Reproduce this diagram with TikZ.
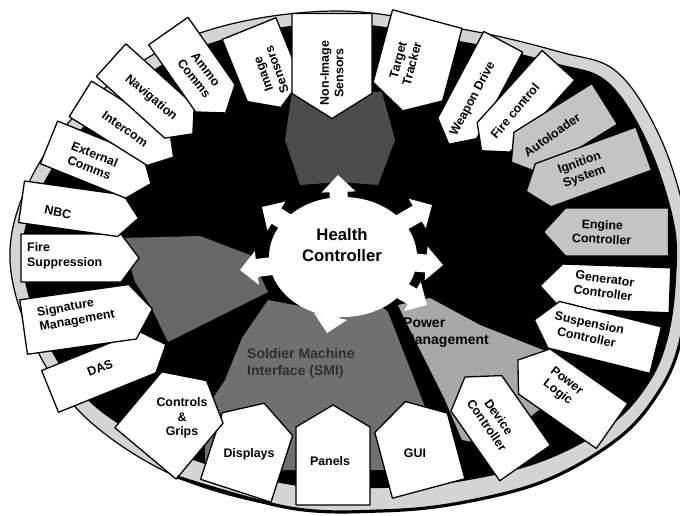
\documentclass[tikz,border=0pt]{standalone}
\usepackage{fontspec}
\setmainfont{Liberation Sans}
\definecolor{rimgray}{HTML}{D4D4D4}
\definecolor{boxgray}{HTML}{C4C4C4}
\definecolor{sensgray}{HTML}{4C4C4C}
\definecolor{leftgray}{HTML}{686868}
\definecolor{smigray}{HTML}{707070}
\definecolor{powgray}{HTML}{A8A8A8}
\newcommand\pbox[7]{%
  \begin{scope}[shift={(#1,#2)},rotate=#3]
    \filldraw[boxline,fill=#7] (-#4/2,-#5/2) -- (#4/2-#6,-#5/2) -- (#4/2,0) -- (#4/2-#6,#5/2) -- (-#4/2,#5/2) -- cycle;
  \end{scope}}
\newcommand\garrow[3]{%
  \fill[white,shift={(#1,#2)},rotate=#3] (0,0) -- (-17,17) -- (-17,9) -- (-50,9) -- (-50,-9) -- (-17,-9) -- (-17,-17) -- cycle;}
\begin{document}
\begin{tikzpicture}[x=1pt,y=-1pt,
  boxline/.style={draw=black,line width=1.3pt,line join=round},
  lbl/.style={font=\bfseries\fontsize{12.4}{14.5}\selectfont,align=center,inner sep=0pt},
  grplbl/.style={font=\bfseries\fontsize{14}{17}\selectfont,align=left,inner sep=0pt,anchor=west},
  gearlbl/.style={font=\bfseries\fontsize{16.7}{21}\selectfont,align=center,inner sep=0pt}]
\useasboundingbox (0,0) rectangle (680,516);
\fill[white] (0,0) rectangle (680,516);
\begin{scope}
\clip (0,0) rectangle (680,516);
% rim
\filldraw[fill=rimgray,draw=black,line width=1.2pt] plot[smooth cycle,tension=0.6] coordinates
 {(335,11) (467,30) (560,52) (617,72) (660,137) (686,220) (688,280) (680,343) (660,390) (620,437) (547,480) (460,503) (380,511) (290,508) (177,477) (83,415) (30,335) (10,250) (37,167) (100,92) (200,33)};
% inner dark region
\fill[black] plot[smooth cycle,tension=0.6] coordinates
 {(335,23) (465,42) (555,63) (608,82) (648,143) (674,222) (676,280) (668,338) (649,383) (611,425) (541,462) (457,482) (380,488) (292,485) (183,456) (93,405) (42,332) (22,250) (48,175) (109,102) (205,45)};
% group fields
\fill[sensgray] (292,92) -- (382,92) -- (395,140) -- (378,185) -- (340,182) -- (300,185) -- (285,140) -- cycle;
\fill[leftgray] (122,238) -- (200,236) -- (250,255) -- (268,292) -- (168,342) -- (150,305) -- (135,282) -- cycle;
\fill[smigray] (242,338) -- (268,300) -- (300,306) -- (375,300) -- (388,312) -- (432,425) -- (430,470) -- (205,470) -- (205,410) -- (225,380) -- cycle;
\fill[powgray] (398,305) -- (430,298) -- (480,325) -- (548,352) -- (545,405) -- (520,425) -- (490,445) -- (462,440) -- (445,400) -- (405,320) -- cycle;
\node[grplbl,text=black!82] (smi) at (247,363) {Soldier Machine\\Interface (SMI)};
\node[grplbl] (pm) at (403,333) {Power\\Management};
% boxes
\pbox{265}{68}{-68}{85}{58}{18}{white}
\pbox{332}{66}{-90}{105}{80}{25}{white}
\pbox{415}{65}{-105}{95}{72}{20}{white}
\pbox{476}{93}{-118}{116}{44}{18}{white}
\pbox{520}{108}{-132}{115}{44}{18}{white}
\pbox{558}{133}{-148}{110}{48}{18}{boxgray}
\pbox{585}{170}{-160}{125}{46}{18}{boxgray}
\pbox{606}{232}{180}{125}{48}{22}{boxgray}
\pbox{605}{288}{178}{130}{45}{22}{white}
\pbox{595}{335}{166}{125}{48}{20}{white}
\pbox{565}{393}{145}{115}{55}{20}{white}
\pbox{495}{420}{125}{105}{62}{20}{white}
\pbox{417}{445}{105}{90}{75}{22}{white}
\pbox{333}{455}{90}{100}{74}{22}{white}
\pbox{250}{447}{72}{92}{74}{22}{white}
\pbox{176}{417}{50}{95}{80}{22}{white}
\pbox{108}{368}{22}{125}{45}{20}{white}
\pbox{88}{318}{8}{130}{55}{20}{white}
\pbox{80}{258}{0}{118}{48}{18}{white}
\pbox{80}{210}{-8}{118}{42}{18}{white}
\pbox{100}{163}{-22}{110}{46}{18}{white}
\pbox{127}{128}{-32}{110}{42}{18}{white}
\pbox{152}{97}{-42}{110}{44}{18}{white}
\pbox{197}{72}{-55}{100}{48}{18}{white}
% labels
\node[lbl,rotate=110] (t1) at (270,72) {Image\\Sensors};
\node[lbl,rotate=90] (t2) at (332,73) {Non-Image\\Sensors};
\node[lbl,rotate=75] (t3) at (405,62) {Target\\Tracker};
\node[lbl,rotate=62] (t4) at (473,99) {Weapon Drive};
\node[lbl,rotate=50] (t5) at (515,111) {Fire control};
\node[lbl,rotate=35] (t6) at (552,135) {Autoloader};
\node[lbl,rotate=20] (t7) at (582,170) {Ignition\\System};
\node[lbl,rotate=-3] (t8) at (602,232) {Engine\\Controller};
\node[lbl,rotate=-8] (t9) at (604,286) {Generator\\Controller};
\node[lbl,rotate=-12] (t10) at (588,330) {Suspension\\Controller};
\node[lbl,rotate=-38] (t11) at (562,387) {Power\\Logic};
\node[lbl,rotate=-55] (t12) at (493,421) {Device\\Controller};
\node[lbl] (t13) at (415,453) {GUI};
\node[lbl] (t14) at (330,461) {Panels};
\node[lbl] (t15) at (249,454) {Displays};
\node[lbl] (t16) at (182,418) {Controls\\\&\\Grips};
\node[lbl,rotate=22] (t17) at (100,368) {DAS};
\node[lbl,rotate=10,align=left] (t18) at (76,314) {Signature\\Management};
\node[lbl,align=left,anchor=west] (t19) at (27,256) {Fire\\Suppression};
\node[lbl,rotate=-12] (t20) at (58,212) {NBC};
\node[lbl,rotate=-22] (t21) at (92,161) {External\\Comms};
\node[lbl,rotate=-35] (t22) at (125,129) {Intercom};
\node[lbl,rotate=-40] (t23) at (151,98) {Navigation};
\node[lbl,rotate=-52] (t24) at (200,74) {Ammo\\Comms};
% health controller gear
\fill[white] (343,257) ellipse [x radius=74, y radius=60];
\garrow{338}{175}{92}
\garrow{262}{207}{148}
\garrow{432}{205}{30}
\garrow{240}{270}{187}
\garrow{443}{265}{-5}
\garrow{427}{305}{-30}
\garrow{327}{333}{-102}
\node[gearlbl] (hc) at (342,245) {Health\\Controller};
% thick lower rim
\draw[line width=3.2pt] plot[smooth,tension=0.6] coordinates
 {(177,477) (290,508) (380,511) (460,503) (547,480) (620,437) (660,390) (680,343) (688,280)};
\end{scope}
\end{tikzpicture}
\end{document}
